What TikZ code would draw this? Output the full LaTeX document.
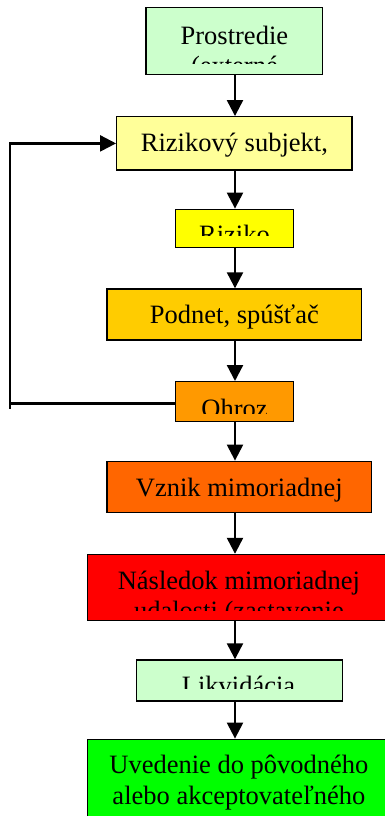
\documentclass[tikz,border=0pt]{standalone}
\usepackage{fontspec}
\setmainfont{Liberation Serif}
\usetikzlibrary{arrows.meta}
\definecolor{cEnv}{HTML}{CCFFCC}
\definecolor{cSubj}{HTML}{FFFF99}
\definecolor{cRisk}{HTML}{FFFF00}
\definecolor{cTrig}{HTML}{FFCC00}
\definecolor{cThreat}{HTML}{FF9900}
\definecolor{cEvent}{HTML}{FF6600}
\definecolor{cConseq}{HTML}{FF0000}
\definecolor{cLiq}{HTML}{CCFFCC}
\definecolor{cRestore}{HTML}{00FF00}
\tikzset{
  flowbox/.style={draw=black, line width=1.4pt, rectangle, inner sep=0pt},
  flowtext/.style={anchor=base, inner sep=0pt, font=\fontsize{26.5}{30.5}\selectfont},
  arr/.style={line width=2.3pt, -{Triangle[width=16pt,length=16pt]}},
  fbline/.style={line width=2.3pt},
}
\begin{document}
\begin{tikzpicture}[x=1pt,y=-1pt]
\useasboundingbox (0,0) rectangle (385,816);
\clip (0,0) rectangle (385,816);
\fill[white] (0,0) rectangle (385,816);
% boxes
\node[flowbox, fill=cEnv,     minimum width=176.7pt, minimum height=67.4pt] (b1) at (234.4,41.0) {};
\node[flowbox, fill=cSubj,    minimum width=235.3pt, minimum height=53.3pt] (b2) at (234.4,143.4) {};
\node[flowbox, fill=cRisk,    minimum width=117.6pt, minimum height=38.0pt] (b3) at (234.5,228.3) {};
\node[flowbox, fill=cTrig,    minimum width=254.7pt, minimum height=51.0pt] (b4) at (234.4,314.5) {};
\node[flowbox, fill=cThreat,  minimum width=117.6pt, minimum height=39.8pt] (b5) at (234.5,401.6) {};
\node[flowbox, fill=cEvent,   minimum width=264.7pt, minimum height=51.4pt] (b6) at (239.4,487.0) {};
\node[flowbox, fill=cConseq,  minimum width=302.3pt, minimum height=66.2pt] (b7) at (238.9,587.6) {};
\node[flowbox, fill=cLiq,     minimum width=206.0pt, minimum height=41.0pt] (b8) at (239.7,680.5) {};
\node[flowbox, fill=cRestore, minimum width=302.3pt, minimum height=100pt]  (b9) at (238.9,789.3) {};
% texts (clipped like text frames)
\begin{scope}
  \clip (146,8) rectangle (323,63.5);
  \node[flowtext] (t1a) at (234.4,44.2) {Prostredie};
  \node[flowtext] (t1b) at (234.4,74.6) {(externé};
\end{scope}
\node[flowtext] (t2) at (234.4,151.7) {Rizikový subjekt,};
\begin{scope}
  \clip (176,210) rectangle (293,235.2);
  \node[flowtext] (t3) at (234.5,243.5) {Riziko};
\end{scope}
\node[flowtext] (t4) at (234.4,323.0) {Podnet, spúšťač};
\begin{scope}
  \clip (176,382) rectangle (293,413.0);
  \node[flowtext] (t5) at (234.5,417.0) {Ohroz};
\end{scope}
\node[flowtext] (t6) at (239.3,496.0) {Vznik mimoriadnej};
\begin{scope}
  \clip (88,555) rectangle (390,610.7);
  \node[flowtext] (t7a) at (238.9,589.5) {Následok mimoriadnej};
  \node[flowtext] (t7b) at (238.9,619.9) {udalosti (zastavenie};
\end{scope}
\begin{scope}
  \clip (137,661) rectangle (342,688.8);
  \node[flowtext] (t8) at (238.5,694.0) {Likvidácia};
\end{scope}
\node[flowtext] (t9a) at (238.9,773.0) {Uvedenie do pôvodného};
\node[flowtext] (t9b) at (238.9,804.5) {alebo akceptovateľného};
% connectors
\coordinate (ax) at (235,0);
\draw[arr] (b1.south -| ax) -- (b2.north -| ax);
\draw[arr] (b2.south -| ax) -- (b3.north -| ax);
\draw[arr] (b3.south -| ax) -- (b4.north -| ax);
\draw[arr] (b4.south -| ax) -- (b5.north -| ax);
\draw[arr] (b5.south -| ax) -- (b6.north -| ax);
\draw[arr] (b6.south -| ax) -- (b7.north -| ax);
\draw[arr] (b7.south -| ax) -- (b8.north -| ax);
\draw[arr] (b8.south -| ax) -- (b9.north -| ax);
% feedback loop
\coordinate (fbbot) at (10,408.5);
\coordinate (fbjoin) at (10,403.5);
\draw[fbline] (b5.west |- fbjoin) -- (fbjoin);
\draw[arr] (fbbot) -- (fbbot |- b2.west) -- (b2.west);
\end{tikzpicture}
\end{document}
